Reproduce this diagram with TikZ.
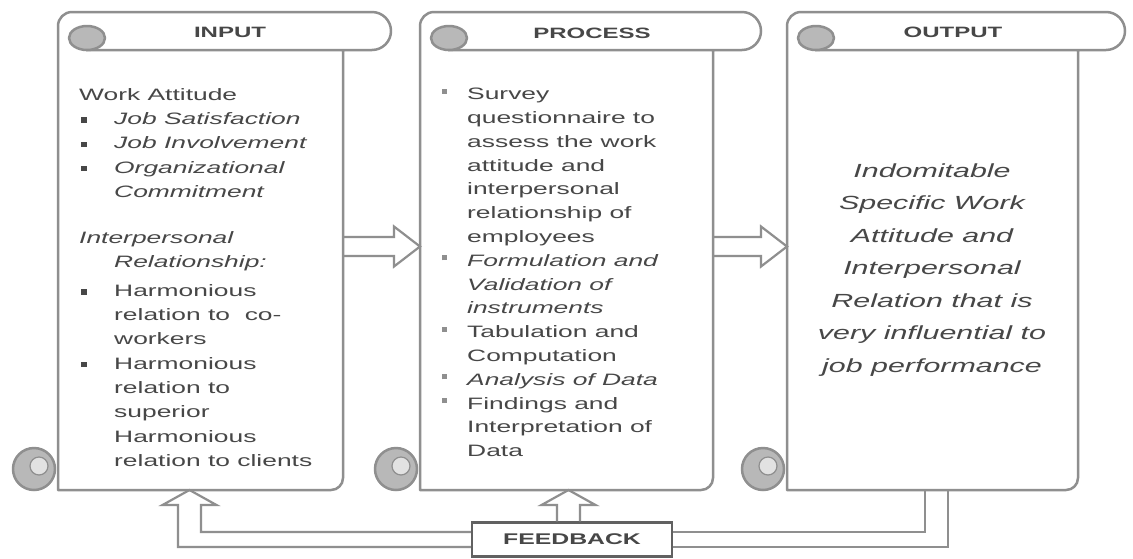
\documentclass[tikz,border=0pt]{standalone}
\usepackage{fontspec}
\setmainfont{Liberation Sans}[FakeStretch=1.6]
\usetikzlibrary{calc}

\definecolor{line}{gray}{0.56}
\definecolor{curl}{gray}{0.72}
\definecolor{ink}{gray}{0.28}

% bullets and hanging indents for the two lists
\newcommand\ibul{\makebox[35pt][l]{\hspace*{2pt}\rule[1.8pt]{5.5pt}{5.5pt}}}
\newcommand\inda{\hspace*{35pt}}
\newcommand\pbul{\makebox[25pt][l]{\textcolor{line}{\rule[6pt]{5pt}{5pt}}}}
\newcommand\indb{\hspace*{25pt}}

% vertical scroll: #1 body left, #2 body right, #3 right end of the top roll
\newcommand\drawscroll[3]{%
  \draw[outl] (#2,50) -- (#2,478) arc[start angle=0,end angle=90,radius=12]
    -- (#1,490) -- (#1,26) arc[start angle=180,end angle=270,radius=14]
    -- (#3-19,12) arc[start angle=-90,end angle=90,radius=19] -- (#1+28,50);
  \draw[outl,fill=curl] (#1+29,38) ellipse [x radius=18, y radius=12];
  \draw[outl,fill=curl] (#1-24,469) circle [radius=21];
  \draw[line width=1.2pt,draw=line,fill=curl!40] (#1-19,466) circle [radius=9];
}

\tikzset{
  outl/.style={draw=line, line width=2.5pt, line join=round},
  conn/.style={draw=line, line width=2.2pt, line join=miter},
  bodybox/.style={inner sep=0pt, outer sep=0pt, draw=none},
  txt/.style={inner sep=0pt, text=ink, align=left},
  ttl/.style={anchor=base, inner sep=0pt, text=ink,
    font=\fontsize{15pt}{18pt}\selectfont\bfseries},
  fbbox/.style={draw=black!62, fill=white, line width=2.5pt,
    minimum width=200pt, minimum height=34pt, inner sep=0pt, text=ink,
    font=\fontsize{15.5pt}{18pt}\selectfont\bfseries},
  harrow/.style={to path={
    ($(\tikztostart)+(0,-9.5)$) -- ($(\tikztotarget)+(-26,-9.5)$)
    -- ($(\tikztotarget)+(-26,-20)$) -- (\tikztotarget)
    -- ($(\tikztotarget)+(-26,20)$) -- ($(\tikztotarget)+(-26,9.5)$)
    -- ($(\tikztostart)+(0,9.5)$)}},
  uarrow/.style={to path={
    ($(\tikztostart)+(-11.5,0)$) -- ($(\tikztotarget)+(-11.5,15)$)
    -- ($(\tikztotarget)+(-27,15)$) -- (\tikztotarget)
    -- ($(\tikztotarget)+(27,15)$) -- ($(\tikztotarget)+(11.5,15)$)
    -- ($(\tikztostart)+(11.5,0)$)}},
  fbleft/.style={to path={
    ($(\tikztostart)+(0,7.5)$) -| ($(\tikztotarget)+(-11.5,15)$)
    -- ($(\tikztotarget)+(-27,15)$) -- (\tikztotarget)
    -- ($(\tikztotarget)+(27,15)$) -- ($(\tikztotarget)+(11.5,15)$)
    |- ($(\tikztostart)+(0,-7.5)$)}},
  fbright/.style={to path={
    ($(\tikztostart)+(-11.5,0)$) |- ($(\tikztotarget)+(0,-7.5)$)
    ($(\tikztostart)+(11.5,0)$) |- ($(\tikztotarget)+(0,7.5)$)}},
}

\begin{document}
\begin{tikzpicture}[x=1pt,y=-1pt]
\useasboundingbox (0,0) rectangle (1133,558);
\fill[white] (0,0) rectangle (1133,558);

% the three scrolls
\drawscroll{58}{343}{391}
\drawscroll{420}{713}{761}
\drawscroll{787}{1078}{1125}

\node[bodybox, minimum width=285pt, minimum height=440pt] (inb) at (200.5,270) {};
\node[bodybox, minimum width=293pt, minimum height=440pt] (prb) at (566.5,270) {};
\node[bodybox, minimum width=291pt, minimum height=440pt] (outb) at (932.5,270) {};

% headings on the rolls
\node[ttl] (tin) at (230,37) {INPUT};
\node[ttl] (tpr) at (592,38) {PROCESS};
\node[ttl] (tout) at (953,37) {OUTPUT};

% list of inputs
\node[txt, anchor=north west, font=\fontsize{16.5pt}{24.3pt}\selectfont] (intext) at (79,88.2) {%
Work Attitude\\
\ibul\textit{Job Satisfaction}\\
\ibul\textit{Job Involvement}\\
\ibul\textit{Organizational}\\
\inda\textit{Commitment}\\[21.5pt]
\textit{Interpersonal}\\
\inda\textit{Relationship:}\\[4.4pt]
\ibul Harmonious\\
\inda relation to \ co-\\
\inda workers\\
\ibul Harmonious\\
\inda relation to\\
\inda superior\\
\inda Harmonious\\
\inda relation to clients};

% list of process steps
\node[txt, anchor=north west, font=\fontsize{16.5pt}{23.8pt}\selectfont] (prtext) at (442,88) {%
\pbul Survey\\
\indb questionnaire to\\
\indb assess the work\\
\indb attitude and\\
\indb interpersonal\\
\indb relationship of\\
\indb employees\\
\pbul\textit{Formulation and}\\
\indb\textit{Validation of}\\
\indb\textit{instruments}\\
\pbul Tabulation and\\
\indb Computation\\
\pbul\textit{Analysis of Data}\\
\pbul Findings and\\
\indb Interpretation of\\
\indb Data};

% expected output
\node[txt, align=center, anchor=north, font=\fontsize{19pt}{32.5pt}\selectfont\itshape] (outtext) at (932,163.4) {%
Indomitable\\
Specific Work\\
Attitude and\\
Interpersonal\\
Relation that is\\
very influential to\\
job performance};

% hollow arrows between the scrolls
\coordinate (a1s) at ([yshift=23.5pt]inb.east);
\coordinate (a1e) at ([yshift=23.5pt]prb.west);
\coordinate (a2s) at ([yshift=23.5pt]prb.east);
\coordinate (a2e) at ([yshift=23.5pt]outb.west);
\draw[conn, harrow] (a1s) to (a1e);
\draw[conn, harrow] (a2s) to (a2e);

% feedback loop
\node[fbbox] (fb) at (572,539.5) {FEEDBACK};
\coordinate (fbup) at ([xshift=-3.5pt]fb.north);
\coordinate (prtip) at ([xshift=2pt]prb.south);
\coordinate (intip) at ([xshift=-11pt]inb.south);
\coordinate (outfoot) at ([xshift=4pt]outb.south);
\draw[conn, uarrow] (fbup) to (prtip);
\draw[conn, fbleft] (fb.west) to (intip);
\draw[conn, fbright] (outfoot) to (fb.east);
\end{tikzpicture}
\end{document}
